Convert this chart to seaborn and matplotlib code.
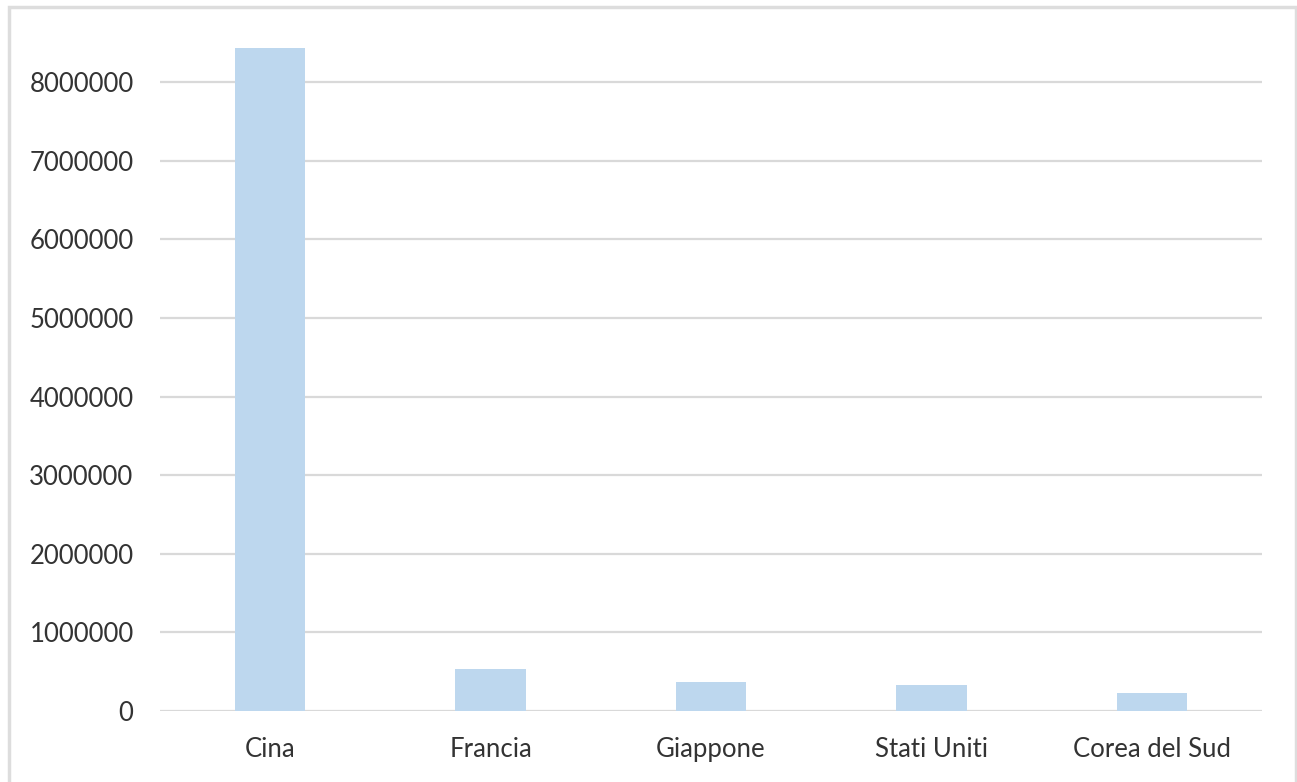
import seaborn as sns
import matplotlib.pyplot as plt
import pandas as pd
from matplotlib.patches import Rectangle

# valori
paesi = ['Cina', 'Francia', 'Giappone', 'Stati Uniti', 'Corea del Sud']
valori = [8430000, 540000, 363000, 325000, 228000]
yticks = [0, 1000000, 2000000, 3000000, 4000000, 5000000, 6000000, 7000000, 8000000]

df = pd.DataFrame({'paese': paesi, 'valore': valori})

sns.set_style('white')
plt.rcParams['font.family'] = ['Lato', 'DejaVu Sans']

W, H = 1297, 782
fig = plt.figure(figsize=(W / 100, H / 100), dpi=100)
ax = fig.add_axes([160 / W, 1 - 711 / H, (1262 - 160) / W, (711 - 42) / H])

sns.barplot(data=df, x='paese', y='valore', color='#BDD7EE', width=0.32,
            saturation=1, linewidth=0, ax=ax, zorder=3)

ax.set_ylim(0, 8000000 * (711 - 42) / (711 - 82))
ax.set_yticks(yticks)
ax.set_yticklabels([str(t) for t in yticks])
ax.set_xlim(-0.5, len(paesi) - 0.5)
ax.yaxis.grid(True, color='#D9D9D9', linewidth=1.6, zorder=0)
ax.set_axisbelow(True)
for s in ax.spines.values():
    s.set_visible(False)
ax.set_xlabel('')
ax.set_ylabel('')
ax.tick_params(axis='both', length=0, labelsize=18.5, colors='#333333')
ax.tick_params(axis='y', pad=19)
ax.tick_params(axis='x', pad=19)

# bordo del grafico
fig.patches.append(Rectangle((9 / W, -0.05), (1296 - 9) / W, 1.05 - 7 / H,
                             transform=fig.transFigure, fill=False,
                             edgecolor='#DDDDDD', linewidth=2.5))

plt.savefig('out.png', dpi=100)
